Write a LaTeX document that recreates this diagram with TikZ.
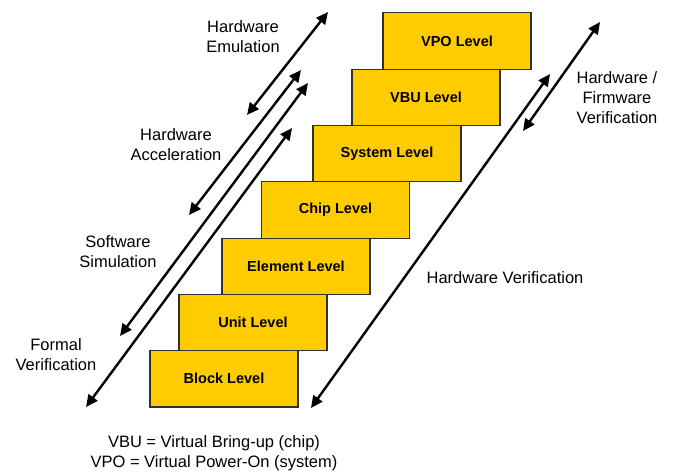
\documentclass[tikz,border=0pt]{standalone}
\usepackage{fontspec}
\setmainfont{Liberation Sans}
\usetikzlibrary{arrows.meta}
\definecolor{levelgold}{HTML}{FFCC00}
\definecolor{levelline}{HTML}{303030}
\tikzset{
  levelbox/.style={draw=levelline, line width=1.1pt, fill=levelgold,
    minimum width=148pt, minimum height=56.3pt, inner sep=0pt,
    font=\fontsize{14.5}{17}\selectfont\bfseries},
  lbl/.style={align=center, inner sep=0pt,
    font=\fontsize{16.5}{20}\selectfont},
  flow/.style={line width=2.4pt,
    {Triangle[length=12pt,width=11pt]}-{Triangle[length=12pt,width=11pt]}}
}
\begin{document}
\begin{tikzpicture}[x=1pt,y=-1pt]
  \useasboundingbox (0,0) rectangle (674,474);

  % staircase of verification levels
  \node[levelbox] (vpo)  at (457,41)    {VPO Level};
  \node[levelbox] (vbu)  at (426,97.3)  {VBU Level};
  \node[levelbox] (sys)  at (387,153.6) {System Level};
  \node[levelbox] (chip) at (335.5,209.9) {Chip Level};
  \node[levelbox] (elem) at (296,266.2) {Element Level};
  \node[levelbox] (unit) at (253,322.5) {Unit Level};
  \node[levelbox] (blk)  at (224,378.8) {Block Level};

  % arrow end points
  \coordinate (emuT) at (328,12);   \coordinate (emuB) at (247,115);
  \coordinate (accT) at (301,70);   \coordinate (accB) at (189,215);
  \coordinate (simT) at (308,83);   \coordinate (simB) at (120,336);
  \coordinate (forT) at (292,128);  \coordinate (forB) at (86,407);
  \coordinate (hwT)  at (550,74);   \coordinate (hwB)  at (311,408);
  \coordinate (fwT)  at (600,22);   \coordinate (fwB)  at (523,131);

  \draw[flow] (emuB) -- (emuT);
  \draw[flow] (accB) -- (accT);
  \draw[flow] (simB) -- (simT);
  \draw[flow] (forB) -- (forT);
  \draw[flow] (hwB)  -- (hwT);
  \draw[flow] (fwB)  -- (fwT);

  % method labels
  \node[lbl] (emu) at (243,37)  {Hardware\\Emulation};
  \node[lbl] (acc) at (176,145) {Hardware\\Acceleration};
  \node[lbl] (sim) at (118,252) {Software\\Simulation};
  \node[lbl] (for) at (56,355)  {Formal\\Verification};
  \node[lbl] (fw)  at (617,98)  {Hardware /\\Firmware\\Verification};
  \node[lbl] (hw)  at (505,278) {Hardware Verification};

  % abbreviations
  \node[lbl] (abbr) at (214,453) {VBU = Virtual Bring-up (chip)\\VPO = Virtual Power-On (system)};
\end{tikzpicture}
\end{document}
